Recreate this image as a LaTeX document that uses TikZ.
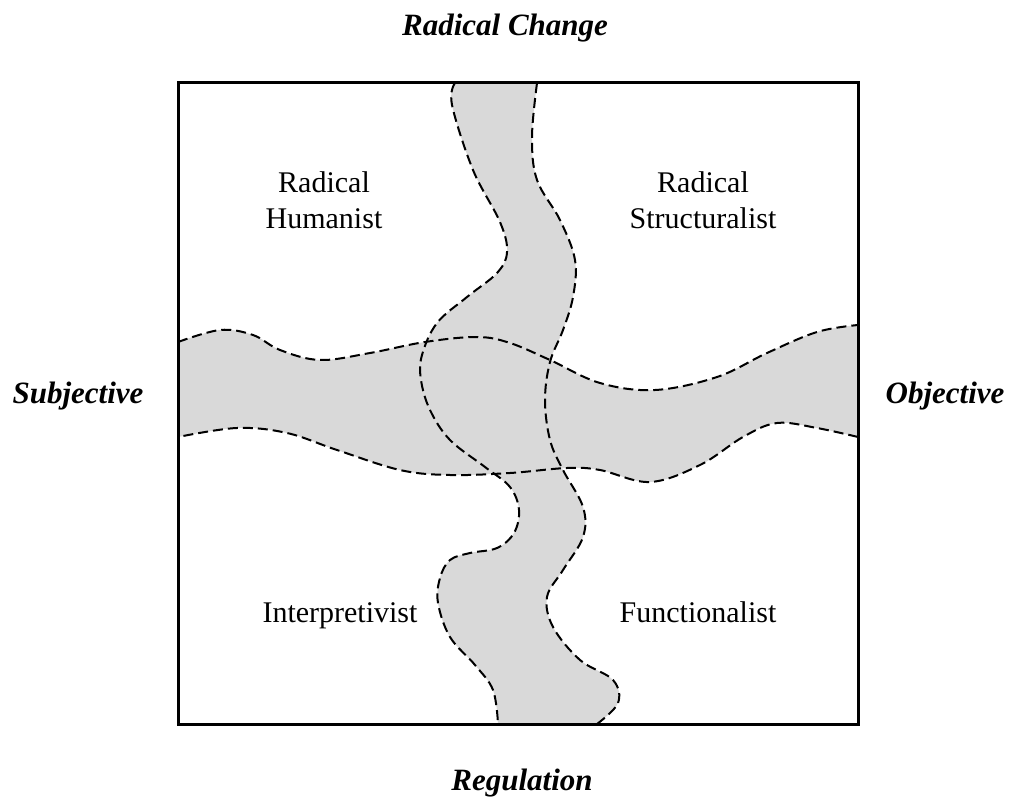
\documentclass[tikz,border=0pt]{standalone}
\usepackage{fontspec}
\setmainfont{Liberation Serif}
\usepackage{tikz}
\usetikzlibrary{positioning}

% band outlines (pixel units, y downwards)
\def\vbandL{(455,83) (452,105) (473,170) (500,222) (507,252) (497,273) (467,297) (437,323) (422,355) (421,380) (430,410) (450,440) (485,467) (510,487) (519,510) (514,533) (497,548) (470,553) (450,560) (440,578) (438,603) (450,637) (475,665) (493,690) (498,724)}
\def\vbandR{(597,724) (618,703) (613,680) (580,660) (553,627) (547,597) (563,570) (583,537) (583,507) (563,470) (550,440) (545,400) (550,362) (563,330) (573,297) (575,260) (560,220) (537,180) (532,137) (537,83)}
\def\hbandT{(178,342) (220,330) (253,335) (280,350) (320,360) (370,353) (425,342) (477,337) (510,343) (550,360) (600,383) (655,390) (717,377) (767,353) (817,332) (858,325)}
\def\hbandB{(858,437) (817,428) (777,423) (743,437) (700,465) (650,482) (600,470) (567,468) (510,473) (450,475) (400,470) (337,450) (287,433) (237,428) (178,437)}

\begin{document}
\begin{tikzpicture}[
      x=1pt, y=-1pt,
      band/.style={fill=gray!30},
      edge/.style={draw=black, line width=2pt, dash pattern=on 10pt off 5pt},
      frame/.style={draw=black, line width=3pt},
      axis/.style={font=\fontsize{31}{37}\selectfont\bfseries\itshape, anchor=base},
      quad/.style={font=\fontsize{30}{36}\selectfont, align=center},
    ]
    \useasboundingbox (0,0) rectangle (1024,799);
    \coordinate (tl) at (178,83);
    \coordinate (br) at (858,724);

    \begin{scope}
      \clip (tl) rectangle (br);
      \edef\bands{%
        \noexpand\fill[band] plot[smooth,tension=0.6] coordinates {\vbandL}
          -- plot[smooth,tension=0.6] coordinates {\vbandR} -- cycle;
        \noexpand\fill[band] plot[smooth,tension=0.6] coordinates {\hbandT}
          -- plot[smooth,tension=0.6] coordinates {\hbandB} -- cycle;
        \noexpand\draw[edge] plot[smooth,tension=0.6] coordinates {\vbandL};
        \noexpand\draw[edge] plot[smooth,tension=0.6] coordinates {\vbandR};
        \noexpand\draw[edge] plot[smooth,tension=0.6] coordinates {\hbandT};
        \noexpand\draw[edge] plot[smooth,tension=0.6] coordinates {\hbandB};
      }
      \bands
    \end{scope}
    \draw[frame] (tl) rectangle (br);

    \node[axis] (change) at (505,36)  {Radical Change};
    \node[axis] (subj)   at (78,403)  {Subjective};
    \node[axis] (obj)    at (945,403) {Objective};
    \node[axis] (reg)    at (522,790) {Regulation};

    \node[quad] (rh) at (324,200) {Radical\\Humanist};
    \node[quad] (rs) at (703,200) {Radical\\Structuralist};
    \node[quad, anchor=base] (ip) at (340,622) {Interpretivist};
    \node[quad, anchor=base] (fn) at (698,622) {Functionalist};
  \end{tikzpicture}
\end{document}
